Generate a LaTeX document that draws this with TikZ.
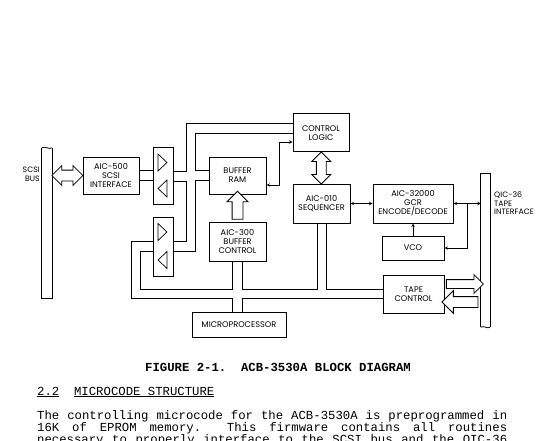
\documentclass[tikz,border=0pt]{standalone}
\usepackage{fontspec}
\setmonofont{Liberation Mono}
\newfontfamily\blockfont{Poppins}
\usepackage{tikz}
\usetikzlibrary{shapes,arrows,positioning,calc}

\begin{document}
\begin{tikzpicture}[
    x=1pt, y=-1pt,
    block/.style={rectangle, draw=black, line width=1pt, align=center, inner sep=1pt, font=\blockfont\fontsize{8.2}{9}\selectfont},
    buffer/.style={rectangle, draw=black, line width=1pt, minimum width=20pt, inner sep=0pt},
    busbar/.style={rectangle, inner sep=0pt},
    buslabel/.style={inner sep=0pt, font=\blockfont\fontsize{7.8}{8.6}\selectfont},
    wire/.style={line width=0.7pt},
    arrow/.style={<->,>=stealth,line width=0.6pt},
    onearrow/.style={->,>=stealth,line width=0.6pt},
    fatarrow/.style={double arrow, draw=black, line width=0.8pt, inner xsep=0pt, fill=white},
    bigarrow/.style={single arrow, draw=black, line width=0.8pt, inner xsep=0pt, fill=white},
    captiontext/.style={anchor=base, inner sep=0pt, font=\ttfamily\bfseries\fontsize{12.3}{12}\selectfont},
    bodytext/.style={anchor=base west, inner sep=0pt, font=\ttfamily\fontsize{12.3}{12}\selectfont}
]
\useasboundingbox (0,0) rectangle (538,441);

% Blocks
\node[block, minimum width=56pt, minimum height=37pt] (scsiif) at (111,175.5) {AIC-500\\SCSI\\INTERFACE};
\node[block, minimum width=57pt, minimum height=37pt] (ram) at (237.5,175.5) {BUFFER\\RAM};
\node[block, minimum width=57pt, minimum height=39pt] (bufctl) at (237.5,241.5) {AIC-300\\BUFFER\\CONTROL};
\node[block, minimum width=56pt, minimum height=38pt] (ctl) at (321,133) {CONTROL\\LOGIC};
\node[block, minimum width=57pt, minimum height=39pt] (seq) at (321.5,203.5) {AIC-010\\SEQUENCER};
\node[block, minimum width=80pt, minimum height=39pt] (gcr) at (413,203.5) {AIC-32000\\GCR\\ENCODE/DECODE};
\node[block, minimum width=62pt, minimum height=24pt] (vco) at (413,248) {VCO};
\node[block, minimum width=61pt, minimum height=38pt] (tapectl) at (413.5,294) {TAPE\\CONTROL};
\node[block, minimum width=94pt, minimum height=25pt] (mpu) at (239,324.5) {MICROPROCESSOR};

% Buffers
\node[buffer, minimum height=56pt] (buf1) at (163,176) {};
\node[buffer, minimum height=59pt] (buf2) at (163,246.5) {};
\draw[wire] ($(buf1.center)+(-5,-22)$) -- ++(0,17) -- ++(9,-8.5) -- cycle;
\draw[wire] ($(buf1.center)+(4,4)$) -- ++(0,17) -- ++(-9,-8.5) -- cycle;
\draw[wire] ($(buf2.center)+(-5,-23)$) -- ++(0,17) -- ++(9,-8.5) -- cycle;
\draw[wire] ($(buf2.center)+(4,5)$) -- ++(0,17) -- ++(-9,-8.5) -- cycle;

% Bus bars
\node[busbar, minimum width=10pt, minimum height=150pt] (scsibus) at (47,223) {};
\node[busbar, minimum width=9pt, minimum height=153pt] (qicbus) at (485.5,250.5) {};
\draw[line width=1pt] (scsibus.north west) -- (scsibus.south west) -- (scsibus.south east) -- (scsibus.north east);
\draw[line width=0.8pt] (scsibus.north west) .. controls +(3,-2) and +(-3,2) .. (scsibus.north east);
\draw[line width=1pt] (qicbus.south west) -- (qicbus.north west) -- (qicbus.north east) -- (qicbus.south east);
\draw[line width=0.8pt] (qicbus.south west) .. controls +(3,-2) and +(-3,2) .. (qicbus.south east);
\node[buslabel, anchor=east, align=right] (scsilabel) at (40,174) {SCSI\\BUS};
\node[buslabel, anchor=west, align=left] (qiclabel) at (494,203.5) {QIC-36\\TAPE\\INTERFACE};

% Hollow arrows
\node[fatarrow, minimum height=31pt, inner ysep=5pt, double arrow head extend=4.5pt] (scsiarrow) at ($(scsibus.east |- scsiif.west)!0.5!(scsiif.west)$) {};
\node[fatarrow, rotate=90, minimum height=32pt, inner ysep=4.5pt, double arrow head extend=4.5pt] (ctlarrow) at ($(ctl.south)!0.5!(seq.north)$) {};
\node[bigarrow, rotate=90, minimum height=28pt, inner ysep=5pt, single arrow head extend=5pt] (bufarrow) at ($(bufctl.north)!0.5!(ram.south)$) {};
\node[bigarrow, minimum height=37pt, inner ysep=4pt, single arrow head extend=5pt] (tapeout) at ($(tapectl.east)!0.5!(tapectl.east -| qicbus.west)+(0,-10)$) {};
\node[bigarrow, rotate=180, minimum height=36pt, inner ysep=5pt, single arrow head extend=6pt] (tapein) at ($(tapectl.east)!0.5!(tapectl.east -| qicbus.west)+(0,8)$) {};

% Lanes of the double-line buses
\coordinate (laneA) at (186,0);
\coordinate (laneB) at (195,0);
\coordinate (laneC) at (131,0);
\coordinate (laneD) at (140,0);
\coordinate (ctlA) at ([yshift=10pt]ctl.west);
\coordinate (buf2A) at ([yshift=5pt]buf2.east);
\coordinate (buf2B) at ([yshift=-5pt]buf2.east);
\coordinate (bcA) at ([xshift=-5pt]bufctl.south);
\coordinate (bcB) at ([xshift=5pt]bufctl.south);
\coordinate (seqA) at ([xshift=-4pt]seq.south);
\coordinate (seqB) at ([xshift=5pt]seq.south);
\coordinate (rowA) at ([yshift=4.5pt]tapectl.west);
\coordinate (rowB) at ([yshift=-4.5pt]tapectl.west);

% Buses
\draw[wire] ([yshift=5pt]scsiif.east) -- ([yshift=5pt]scsiif.east -| buf1.west);
\draw[wire] ([yshift=-5pt]scsiif.east) -- ([yshift=-5pt]scsiif.east -| buf1.west);
\draw[wire] ([yshift=5pt]buf1.east) -| (laneA |- ctlA) -- (ctlA);
\draw[wire] ([yshift=5pt]ram.west) -| (laneB |- ctl.west) -- (ctl.west);
\draw[wire] ([yshift=-5pt]buf1.east) -| (laneA |- buf2A) -- (buf2A);
\draw[wire] ([yshift=-5pt]ram.west) -| (laneB |- buf2B) -- (buf2B);
\draw[wire] ([yshift=5pt]buf2.west) -| (laneC |- rowB) -| (bcA |- mpu.north);
\draw[wire] ([yshift=-5pt]buf2.west) -| (laneD |- rowA) -| (bcA);
\draw[wire] (bcB) |- (rowA -| seqA) -- (seqA);
\draw[wire] (bcB |- mpu.north) |- (rowB);
\draw[wire] (seqB) |- (rowA);

% Signal lines
\draw[arrow] ([yshift=-9.5pt]ram.east) -- ++(13,0) |- ([yshift=-9pt]ctl.west);
\draw[arrow] (seq) -- (gcr);
\draw[arrow] (gcr.east) -- (gcr.east -| qicbus.west);
\coordinate (tap) at ($(gcr.east)!0.5!(gcr.east -| qicbus.west)$);
\draw[onearrow] (tap) |- (vco.east);
\draw[onearrow] (vco) -- (gcr);

% Caption and text
\node[captiontext] (caption) at (278,371) {FIGURE 2-1.\ \ ACB-3530A BLOCK DIAGRAM};
\node[bodytext] (heading) at (37,395) {\underline{2.2}\ \ \underline{MICROCODE STRUCTURE}};
\node[bodytext] (line1) at (37,419) {\spaceskip=.6em plus 1fil\relax\makebox[470pt][s]{The controlling microcode for the ACB-3530A is preprogrammed in}};
\node[bodytext] (line2) at (37,431) {\spaceskip=.6em plus 1fil\relax\makebox[470pt][s]{16K of EPROM memory.\ \ This firmware contains all routines}};
\node[bodytext] (line3) at (37,443) {\spaceskip=.6em plus 1fil\relax\makebox[470pt][s]{necessary to properly interface to the SCSI bus and the QIC-36}};

\end{tikzpicture}
\end{document}
